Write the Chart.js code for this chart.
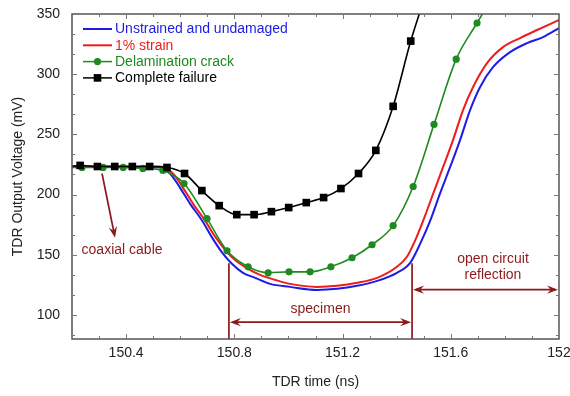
<!DOCTYPE html>
<html><head><meta charset="utf-8">
<script src="https://cdn.jsdelivr.net/npm/chart.js@4/dist/chart.umd.min.js"></script>
<style>html,body{margin:0;padding:0;background:#fff}</style>
</head><body>
<canvas id="c" width="570" height="396" style="width:570px;height:396px;display:block"></canvas>
<script>
// ---------- data ----------
const seriesNames = ['Unstrained and undamaged', '1% strain', 'Delamination crack', 'Complete failure'];
const seriesColors = ['#1c1ce6', '#ee1c1c', '#1f8a1f', '#000000'];

const blueT = [150.200,150.525,150.562,150.599,150.636,150.681,150.718,150.755,150.791,150.832,150.877,150.932,151.006,151.106,151.180,151.254,151.328,151.401,151.450,151.487,151.524,151.560,151.597,151.634,151.671,151.708,151.756,151.819,151.882,151.941,152.000];
const blueV = [223.3,222.5,217.5,205.8,192.5,178.3,164.2,151.7,142.5,135.0,130.8,125.8,123.3,120.8,121.7,124.2,128.3,135.0,143.3,159.2,178.3,200.8,222.5,245.0,270.0,289.2,305.8,318.3,325.8,330.8,338.3];

const redT = [150.200,150.525,150.573,150.610,150.647,150.692,150.729,150.769,150.806,150.851,150.895,150.950,151.006,151.106,151.180,151.254,151.328,151.401,151.438,151.468,151.498,151.535,151.571,151.608,151.645,151.682,151.734,151.793,151.856,151.919,152.000];
const redV = [223.3,223.3,217.5,205.8,192.5,178.3,165.0,153.3,145.0,138.3,133.3,129.2,125.8,123.3,124.2,126.7,130.8,140.0,148.3,161.7,178.3,200.8,222.5,245.0,270.0,289.2,309.2,322.5,330.0,336.7,345.0];

// first entry of green/black is the line start (no marker)
const greenT = [150.200,150.237,150.315,150.389,150.462,150.536,150.614,150.699,150.773,150.851,150.925,151.002,151.080,151.157,151.235,151.309,151.387,151.461,151.538,151.620,151.697,151.775];
const greenV = [222.5,222.5,222.5,222.5,221.7,220.0,209.2,180.0,153.3,140.0,135.0,135.8,135.8,140.0,147.5,158.3,174.2,206.7,258.3,312.5,342.5,372.0];

const blackT = [150.200,150.230,150.294,150.358,150.423,150.487,150.551,150.616,150.680,150.744,150.809,150.873,150.937,151.001,151.066,151.130,151.194,151.259,151.323,151.387,151.452,151.516];
const blackV = [223.3,224.2,223.3,223.3,223.3,223.3,222.5,217.5,203.3,190.8,183.3,183.3,185.8,189.2,193.3,197.5,205.0,217.5,236.7,273.3,327.5,372.0];

const xTicks = [150.4, 150.8, 151.2, 151.6, 152];
const yTicks = [100, 150, 200, 250, 300, 350];
const xRange = [150.2, 152];
const yRange = [80, 350];
const xMinorStep = 0.1;
const yMinorStep = 50 / 3;

// annotations (data units)
const annotColor = '#8b1a1a';
const specimenBounds = [150.78, 151.457];
const specimenTopV = 143;
const specimenArrowV = 94;
const specimenLabel = 'specimen';
const specimenLabelV = 105;
const openArrowV = 121;
const openLabel = ['open circuit', 'reflection'];
const openLabelT = 151.756;
const openLabelV = [146.7, 133.3];
const coaxArrowFrom = [150.311, 217.5];
const coaxArrowTo = [150.359, 164.2];
const coaxLabel = 'coaxial cable';
const coaxLabelAt = [150.385, 154.2];

// ---------- helpers ----------
const FONT = '"Liberation Sans", Arial, sans-serif';
const pts = (t, v) => t.map((tt, i) => ({x: tt, y: v[i]}));

function arrowHead(ctx, x1, y1, x2, y2) {
  const L = 11, W = 4.2;
  const ang = Math.atan2(y2 - y1, x2 - x1);
  ctx.save();
  ctx.translate(x2, y2); ctx.rotate(ang);
  ctx.beginPath();
  ctx.moveTo(0, 0);
  ctx.lineTo(-L, -W);
  ctx.lineTo(-L * 0.65, 0);
  ctx.lineTo(-L, W);
  ctx.closePath();
  ctx.fill();
  ctx.restore();
}
function seg(ctx, x1, y1, x2, y2) {
  ctx.beginPath(); ctx.moveTo(x1, y1); ctx.lineTo(x2, y2); ctx.stroke();
}

const deco = {
  id: 'deco',
  afterDatasetsDraw(chart) {
    const {ctx, chartArea: a, scales: {x, y}} = chart;
    ctx.save();
    ctx.strokeStyle = annotColor; ctx.fillStyle = annotColor; ctx.lineWidth = 1.7;
    const sx = specimenBounds.map(t => x.getPixelForValue(t));
    const sTop = y.getPixelForValue(specimenTopV);
    sx.forEach(px => seg(ctx, px, sTop, px, a.bottom));
    const ay = y.getPixelForValue(specimenArrowV);
    seg(ctx, sx[0] + 4, ay, sx[1] - 4, ay);
    arrowHead(ctx, sx[1], ay, sx[0] + 1, ay);
    arrowHead(ctx, sx[0], ay, sx[1] - 1, ay);
    const oy = y.getPixelForValue(openArrowV);
    const ox2 = x.getPixelForValue(xRange[1]);
    seg(ctx, sx[1] + 4, oy, ox2 - 4, oy);
    arrowHead(ctx, ox2, oy, sx[1] + 1, oy);
    arrowHead(ctx, sx[1], oy, ox2 - 1, oy);
    const c1x = x.getPixelForValue(coaxArrowFrom[0]), c1y = y.getPixelForValue(coaxArrowFrom[1]);
    const c2x = x.getPixelForValue(coaxArrowTo[0]), c2y = y.getPixelForValue(coaxArrowTo[1]);
    seg(ctx, c1x, c1y, c2x - (c2x - c1x) * 0.1, c2y - (c2y - c1y) * 0.1);
    arrowHead(ctx, c1x, c1y, c2x, c2y);
    ctx.font = '14px ' + FONT;
    ctx.textAlign = 'center'; ctx.textBaseline = 'middle';
    ctx.fillText(specimenLabel, (sx[0] + sx[1]) / 2, y.getPixelForValue(specimenLabelV));
    openLabel.forEach((s, i) => ctx.fillText(s, x.getPixelForValue(openLabelT), y.getPixelForValue(openLabelV[i])));
    ctx.fillText(coaxLabel, x.getPixelForValue(coaxLabelAt[0]), y.getPixelForValue(coaxLabelAt[1]));
    ctx.restore();
  },
  afterDraw(chart) {
    const {ctx, chartArea: a, scales: {x, y}} = chart;
    ctx.save();
    ctx.strokeStyle = '#555'; ctx.lineWidth = 1.5;
    ctx.strokeRect(a.left, a.top, a.right - a.left, a.bottom - a.top);
    ctx.lineWidth = 1; ctx.strokeStyle = '#777';
    const nx = Math.round((xRange[1] - xRange[0]) / xMinorStep);
    for (let i = 1; i < nx; i++) {
      const v = xRange[0] + i * xMinorStep;
      const px = Math.round(x.getPixelForValue(v)) + 0.5;
      const major = xTicks.some(t => Math.abs(t - v) < 1e-6);
      const L = major ? 5 : 3;
      seg(ctx, px, a.bottom, px, a.bottom - L);
      seg(ctx, px, a.top, px, a.top + L);
    }
    for (let v = yRange[1] - yMinorStep; v > yRange[0] + 1e-6; v -= yMinorStep) {
      const py = Math.round(y.getPixelForValue(v)) + 0.5;
      const major = yTicks.some(t => Math.abs(t - v) < 1e-3);
      const L = major ? 5 : 3;
      seg(ctx, a.left, py, a.left + L, py);
      seg(ctx, a.right, py, a.right - L, py);
    }
    ctx.font = '14px ' + FONT;
    ctx.textBaseline = 'middle'; ctx.textAlign = 'left';
    const lx0 = a.left + 11, lx1 = a.left + 40, ly0 = a.top + 15, dy = 16.3;
    seriesNames.forEach((name, i) => {
      const yy = ly0 + i * dy;
      ctx.strokeStyle = seriesColors[i]; ctx.fillStyle = seriesColors[i];
      ctx.lineWidth = i < 2 ? 2 : 1.5;
      seg(ctx, lx0, yy, lx1, yy);
      const mx = (lx0 + lx1) / 2;
      if (i === 2) { ctx.beginPath(); ctx.arc(mx, yy, 3.6, 0, Math.PI * 2); ctx.fill(); }
      if (i === 3) { ctx.fillRect(mx - 3.8, yy - 3.8, 7.6, 7.6); }
      ctx.fillText(name, lx1 + 3, yy + 0.5);
    });
    ctx.restore();
  }
};

const markerRadius = (r) => (c) => c.dataIndex === 0 ? 0 : r;

new Chart(document.getElementById('c'), {
  type: 'line',
  data: {
    datasets: [
      {label: seriesNames[0], data: pts(blueT, blueV), borderColor: seriesColors[0], borderWidth: 2, pointRadius: 0, cubicInterpolationMode: 'monotone', order: 4},
      {label: seriesNames[1], data: pts(redT, redV), borderColor: seriesColors[1], borderWidth: 2, pointRadius: 0, cubicInterpolationMode: 'monotone', order: 3},
      {label: seriesNames[2], data: pts(greenT, greenV), borderColor: seriesColors[2], backgroundColor: seriesColors[2], borderWidth: 1.6, pointRadius: markerRadius(3.6), pointBorderWidth: 0, pointStyle: 'circle', cubicInterpolationMode: 'monotone', order: 2},
      {label: seriesNames[3], data: pts(blackT, blackV), borderColor: seriesColors[3], backgroundColor: seriesColors[3], borderWidth: 1.6, pointRadius: markerRadius(5.4), pointBorderWidth: 0, pointStyle: 'rect', cubicInterpolationMode: 'monotone', order: 1}
    ]
  },
  options: {
    responsive: false,
    animation: false,
    devicePixelRatio: 1,
    layout: {padding: {top: 14, right: 11, left: 0, bottom: 0}},
    plugins: {legend: {display: false}, tooltip: {enabled: false}},
    scales: {
      x: {
        type: 'linear', min: xRange[0], max: xRange[1],
        grid: {display: false, drawTicks: false},
        border: {display: false},
        afterBuildTicks: s => { s.ticks = xTicks.map(v => ({value: v})); },
        afterFit: s => { s.height = 57; s.paddingLeft = 0; s.paddingRight = 0; },
        ticks: {padding: 6, color: '#222', font: {family: FONT, size: 14}, maxRotation: 0, autoSkip: false,
          callback: v => String(+(+v).toFixed(1))},
        title: {display: true, text: 'TDR time (ns)', color: '#222', font: {family: FONT, size: 14}, padding: {top: 0, bottom: 5}}
      },
      y: {
        type: 'linear', min: yRange[0], max: yRange[1],
        grid: {display: false, drawTicks: false},
        border: {display: false},
        afterBuildTicks: s => { s.ticks = yTicks.map(v => ({value: v})); },
        afterFit: s => { s.width = 72; s.paddingTop = 0; s.paddingBottom = 0; },
        ticks: {padding: 12, color: '#222', font: {family: FONT, size: 14}, autoSkip: false},
        title: {display: true, text: 'TDR Output Voltage (mV)', color: '#222', font: {family: FONT, size: 14}, padding: {top: 9.5, bottom: 0}}
      }
    }
  },
  plugins: [deco]
});
</script>
</body></html>
